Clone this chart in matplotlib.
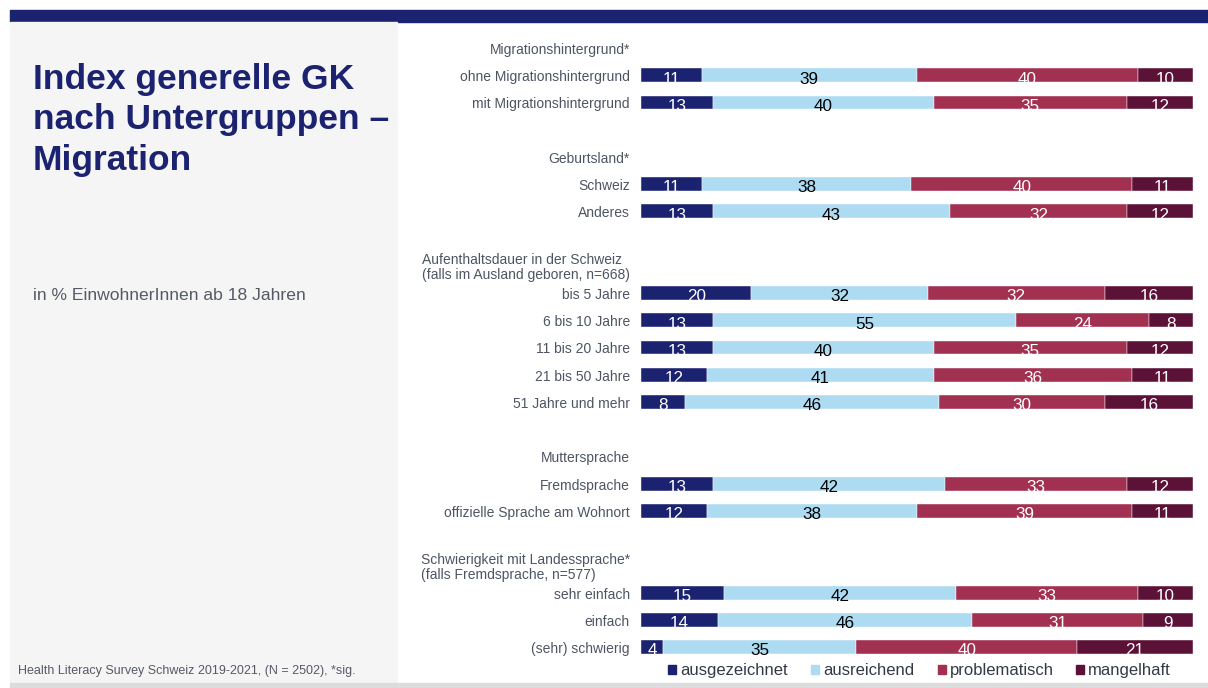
import matplotlib
matplotlib.use("Agg")
from matplotlib import pyplot as plt
from matplotlib.patches import Rectangle
import numpy as np

plt.rcParams['font.family'] = ['Liberation Sans', 'DejaVu Sans']

# rows top to bottom; header rows and empty spacer rows have no values
row_labels = ["Migrationshintergrund*", "ohne Migrationshintergrund", "mit Migrationshintergrund", "",
              "Geburtsland*", "Schweiz", "Anderes", "",
              "Aufenthaltsdauer in der Schweiz\n(falls im Ausland geboren, n=668)",
              "bis 5 Jahre", "6 bis 10 Jahre", "11 bis 20 Jahre", "21 bis 50 Jahre", "51 Jahre und mehr", "",
              "Muttersprache", "Fremdsprache", "offizielle Sprache am Wohnort", "",
              "Schwierigkeit mit Landessprache*\n(falls Fremdsprache, n=577)",
              "sehr einfach", "einfach", "(sehr) schwierig"]

ausgezeichnet = [None, 11, 13, None, None, 11, 13, None, None, 20, 13, 13, 12, 8, None, None, 13, 12, None, None, 15, 14, 4]
ausreichend   = [None, 39, 40, None, None, 38, 43, None, None, 32, 55, 40, 41, 46, None, None, 42, 38, None, None, 42, 46, 35]
problematisch = [None, 40, 35, None, None, 40, 32, None, None, 32, 24, 35, 36, 30, None, None, 33, 39, None, None, 33, 31, 40]
mangelhaft    = [None, 10, 12, None, None, 11, 12, None, None, 16, 8, 12, 11, 16, None, None, 12, 11, None, None, 10, 9, 21]

series = ["ausgezeichnet", "ausreichend", "problematisch", "mangelhaft"]
colors = ["#1b2270", "#addcf2", "#a23151", "#5c1237"]
txtcol = ["white", "black", "white", "white"]

W, H = 1208, 688
fig = plt.figure(figsize=(W / 100, H / 100), dpi=100)

# background decoration
bg = fig.add_axes([0, 0, 1, 1])
bg.set_xlim(0, W)
bg.set_ylim(H, 0)
bg.axis("off")
bg.add_patch(Rectangle((10, 10), W - 10, 12, color="#1b2270"))
bg.add_patch(Rectangle((10, 22), 387, 660, color="#f5f5f5"))
bg.add_patch(Rectangle((10, 683), W - 10, 5, color="#dcdcdc"))

bg.text(33, 120, "Index generelle GK\nnach Untergruppen –\nMigration", fontsize=25.5, fontweight="bold",
        color="#1b2270", va="center", ha="left", linespacing=1.3)
bg.text(33, 296, "in % EinwohnerInnen ab 18 Jahren", fontsize=12.6, color="#555a66", va="center")
bg.text(18, 671, "Health Literacy Survey Schweiz 2019-2021, (N = 2502), *sig.", fontsize=9,
        color="#555a66", va="center")

# bar chart
ax = fig.add_axes([641 / W, 1 - 660.7 / H, 552 / W, 626.3 / H])
ax.set_xlim(0, 100)
ax.set_ylim(len(row_labels) - 0.5, -0.5)
ax.axis("off")

data = [ausgezeichnet, ausreichend, problematisch, mangelhaft]
for i, lab in enumerate(row_labels):
    ax.text(-2, i + 0.07, lab, ha="right", va="center", multialignment="left", fontsize=10,
            color="#4d5563", linespacing=1.1)
    if ausgezeichnet[i] is None:
        continue
    left = 0
    for k in range(4):
        v = data[k][i]
        ax.barh(i, v, left=left, height=0.51, color=colors[k], edgecolor="white", linewidth=0.3)
        ax.text(left + v / 2, i + 0.14, str(v), ha="center", va="center", fontsize=12.3, color=txtcol[k])
        left += v

# legend
leg_x = [668, 811, 938, 1076]
for k in range(4):
    bg.add_patch(Rectangle((leg_x[k], 665), 8, 9, color=colors[k]))
    bg.text(leg_x[k] + 12, 670.5, series[k], fontsize=12, color="#333a47", va="center")

fig.savefig("out.png", dpi=100)
